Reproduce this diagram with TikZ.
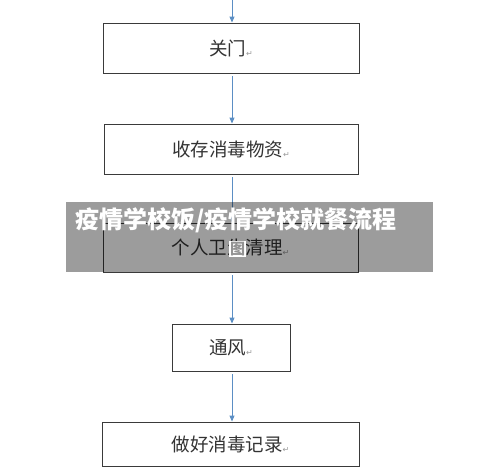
\documentclass[tikz,border=0pt]{standalone}
\usepackage{fontspec}
\newfontfamily\cjk{Noto Sans CJK SC}[BoldFont={* Black}]
\newfontfamily\symf{DejaVu Sans}
\usetikzlibrary{arrows.meta}
\definecolor{arrowblue}{HTML}{5B8EC4}
\definecolor{boxline}{HTML}{3A3A3A}
\definecolor{txt}{HTML}{333333}
\newcommand{\pmark}{{\symf\fontsize{8}{8}\selectfont\color{gray!80}\raisebox{-1pt}{↵}}}
\tikzset{
  stepbox/.style={draw=boxline, line width=0.9pt, fill=white, inner sep=0pt,
    font=\cjk\fontsize{18.5}{20}\selectfont, text=txt},
  flow/.style={draw=arrowblue, line width=0.9pt, -{Triangle[length=6pt,width=5pt]}, shorten <=3pt},
}
\begin{document}
\begin{tikzpicture}[x=1pt,y=-1pt]
\useasboundingbox (0,0) rectangle (500,474);
\node[stepbox, minimum width=256pt, minimum height=50pt] (b1) at (231,48) {关门\pmark};
\node[stepbox, minimum width=254pt, minimum height=50pt] (b2) at (231,149) {收存消毒物资\pmark};
\node[stepbox, minimum width=255pt, minimum height=49pt] (b3) at (230.5,247.5) {个人卫生清理\pmark};
\node[stepbox, minimum width=118pt, minimum height=47pt] (b4) at (231,347.5) {通风\pmark};
\node[stepbox, minimum width=257pt, minimum height=44pt] (b5) at (230.5,444) {做好消毒记录\pmark};
\coordinate (top) at (232,0);
\draw[flow, shorten <=0pt] (top) -- (b1.north -| top);
\draw[flow] (b1.south -| top) -- (b2.north -| top);
\draw[flow] (b2.south -| top) -- (b3.north -| top);
\draw[flow] (b3.south -| top) -- (b4.north -| top);
\draw[flow] (b4.south -| top) -- (b5.north -| top);
% overlay banner
\fill[black, opacity=0.39] (66,202) rectangle (433,272);
\node[anchor=west, text=white, font=\cjk\bfseries\fontsize{24}{26}\selectfont, inner sep=0pt] (title) at (75,220) {疫情学校饭/疫情学校就餐流程};
\node[fill=white, text=gray!85, font=\cjk\bfseries\fontsize{15}{16}\selectfont, inner sep=1pt] (title2) at (237.5,249) {图};
\end{tikzpicture}
\end{document}
